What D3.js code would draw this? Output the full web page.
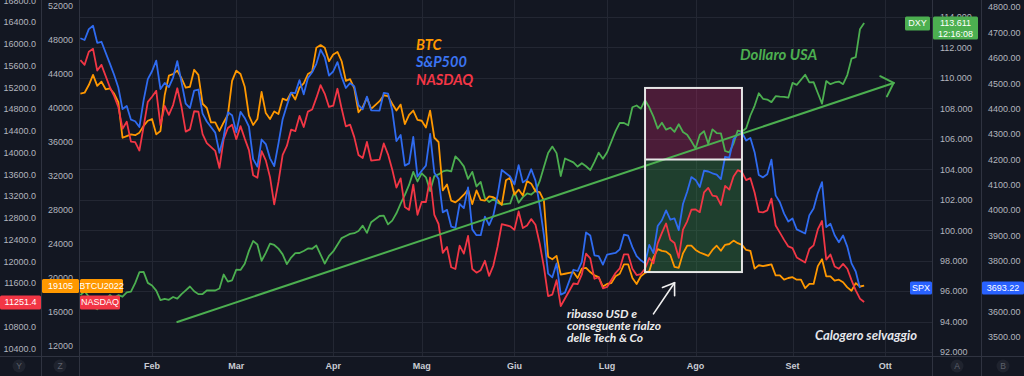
<!DOCTYPE html>
<html>
<head>
<meta charset="utf-8">
<script src="https://cdn.jsdelivr.net/npm/d3@7"></script>
<style>
html, body { margin: 0; padding: 0; background: #131722; }
svg { display: block; }
</style>
</head>
<body>
<script>
(function(){

//----- data: one value per weekday, starting Fri 7 Jan 2022 (null = market closed)
var startDay = "2022-01-07";
var monthNames = ["Gen","Feb","Mar","Apr","Mag","Giu","Lug","Ago","Set","Ott","Nov","Dic"];

var spx = [4677,
  4670,4713,4726,4659,4663, null,4577,4533,4483,4398, 4410,4356,4350,4327,4432, 4516,4547,4589,4477,4501,
  4484,4522,4587,4504,4419, 4402,4471,4475,4380,4349, null,4305,4226,4289,4385, 4374,4306,4387,4363,4329,
  4201,4171,4278,4260,4204, 4173,4262,4358,4412,4463, 4461,4512,4456,4520,4543, 4576,4632,4602,4530,4546,
  4583,4525,4481,4500,4488, 4413,4397,4447,4393,null, 4392,4462,4459,4394,4272, 4296,4175,4184,4288,4132,
  4155,4175,4300,4147,4123, 3991,4001,3935,3930,4024, 4008,4089,3924,3901,3901, 3974,3941,3979,4058,4158,
  null,4132,4101,4177,4109, 4121,4161,4116,4018,3901, 3750,3735,3790,3667,3675, null,3765,3760,3796,3912,
  3900,3822,3819,3785,3825, null,3831,3845,3903,3899, 3854,3819,3802,3790,3863, 3831,3937,3960,3999,3962,
  3967,3921,4024,4072,4130, 4119,4091,4155,4152,4145, 4140,4122,4210,4207,4280, 4297,4305,4274,4284,4228,
  4138,4129,4141,4199,4058, 4031,3986,3955,3967,3924, null,3908,3980,4006,4067, 4110,3933,3946,3901,3873,
  3900,3856,3790,3758,3693,
  null];

var nasdaq = [15700,
  15612,15853,15906,15507,15612, null,15200,15040,14840,14438, 14565,14200,14192,14036,14477, 14930,15026,15134,14503,14856,
  14692,14873,15181,14836,14384, 14425,14759,14753,14339,14171, null,14029,13716,14243,14451, 14511,14245,14485,14256,14044,
  13582,13534,14026,13855,13547, 13047,13458,13956,14120,14420, 14392,14673,14468,14752,14790, 15004,15239,15080,14838,14861,
  15172,14808,14480,14512,14283, 13954,13898,14194,13852,null, 13869,14166,13966,13689,13355, 13525,12997,12944,13408,12855,
  13093,13090,13540,12851,12685, 12154,12261,11890,11858,12288, 12141,12465,11857,11790,11836, 12009,11730,11921,12267,12682,
  null,12643,12577,12915,12610, 12657,12775,12672,12326,11895, 11360,11388,11652,11176,11315, null,11591,11580,11757,12141,
  12052,11678,11706,11503,11528, null,11784,11868,12127,12125, 11862,11746,11765,11862,12060, 11964,12329,12521,12695,12396,
  12335,12064,12583,12735,12947, 12953,12903,13266,13349,13207, 13191,13035,13385,13317,13559, 13675,13639,13492,13528,13264,
  12907,12899,12936,13151,12657, 12527,12393,12272,12242,12070, null,11977,12225,12292,12585, 12740,12030,12123,11905,11862,
  11951,11862,11652,11466,11311,
  11251];

var btc = [41700,
  41800,42700,43900,42600,43100, 42200,42300,41700,40700,36500, 36700,36900,36800,37100,37900, 38500,38700,36900,37300,41500,
  43800,44000,44400,43500,42400, 42500,44500,43900,40500,40000, 38300,38300,37300,38300,39200, 43200,44400,44000,42500,39100,
  38000,38700,41900,39400,38700, 39600,39300,41100,40900,41800, 41000,42400,42900,44000,44300, 47100,47400,47100,45500,46300,
  46600,45500,43200,43400,42300, 39500,40100,41200,39900,null, 40800,41500,41400,40500,39700, 40400,38100,39200,39700,38600,
  38500,37700,39700,36500,36000, 30300,31000,29100,28900,29300, 29800,30400,28700,30300,29200, 29100,29600,29500,29200,28600,
  31500,31800,29800,30400,29700, 31400,31100,30200,30100,29100, 22500,22200,22600,20400,20500, 20600,20700,20000,21100,21200,
  20700,20300,20100,19000,19300, 19400,20200,20500,21600,21600, 20000,19300,20200,20600,20800, 22400,23400,23200,23100,22700,
  21300,21200,22900,23800,23800, 23300,23000,22800,22600,23300, 23800,23200,23900,24000,24400, 24100,23900,23300,23200,21100,
  21500,21400,21500,21600,20300, 20300,19800,20000,20100,19800, 19800,18800,19300,19300,21400, 22200,20200,20200,19700,19800,
  19500,18900,18500,19400,19000,
  19105];

var dxy = [95.73,
  95.99,95.63,94.99,94.81,95.17, null,95.74,95.53,95.73,95.63, 95.91,95.96,96.52,97.24,97.26, 96.54,96.37,96.03,95.41,95.49,
  95.43,95.61,95.50,95.80,96.05, 96.30,95.99,95.80,95.81,96.04, null,96.04,96.17,97.09,96.62, 96.71,97.41,97.39,97.79,98.64,
  99.29,99.06,97.99,98.51,99.12, 99.03,98.79,98.41,97.77,98.20, 98.49,98.50,98.63,98.80,98.78, 98.99,98.40,97.81,98.31,98.60,
  99.04,99.48,99.62,99.76,99.80, 99.95,100.30,99.82,100.52,null, 100.93,100.95,100.38,100.63,101.11, 101.75,102.32,102.97,103.83,103.20,
  103.73,103.47,102.57,103.55,103.66, 103.86,103.92,103.86,104.85,104.56, 104.19,103.37,103.83,102.87,103.17, 102.10,101.85,102.05,101.81,101.68,
  null,101.76,102.54,101.80,102.17, 102.41,102.34,102.58,103.22,104.15, 105.07,105.49,105.06,103.56,104.71, null,104.45,104.18,104.40,104.20,
  103.94,104.49,105.09,104.69,105.12, null,106.51,107.05,107.04,106.89, 108.07,108.19,107.98,108.54,108.07, 107.46,106.68,107.05,106.60,106.73,
  106.46,106.96,106.45,106.27,105.84, 105.36,106.27,106.50,105.67,106.62, 106.38,106.36,105.20,105.11,105.69, 106.54,106.47,106.69,107.53,108.17,
  108.99,108.63,108.58,108.41,108.80, 108.77,108.76,108.70,109.67,109.54, null,110.21,109.71,109.72,109.01, 108.31,109.79,109.59,109.70,109.76,
  109.59,110.19,111.26,111.36,113.19,
  113.61];

//axis tick values (ticks hidden under the last-price tags are left out)
var nasdaqTicks = [10400,10800,11600,12000,12400,12800,13200,13600,14000,14400,14800,15200,15600,16000,16400,16800];
var btcTicks = [12000,16000,20000,24000,28000,32000,36000,40000,44000,48000,52000];
var dxyTicks = [92,94,96,98,100,102,104,106,108,110,112,114];
var spxTicks = [3500,3600,3800,3900,4000,4100,4200,4300,4400,4500,4600,4700,4800];

//last price tags
var lastNasdaq = 11251.4, lastBtc = 19105, lastDxy = 113.611, lastSpx = 3693.22, lastTime = "12:16:08";

//drawings (dates + dollar index values)
var trend = {from: "2022-02-09", v0: 93.97, to: "2022-10-05", v1: 109.67};
var posBox = {from: "2022-07-14", to: "2022-08-16", top: 109.34, mid: 104.64, bottom: 97.25};
var hint = {from: "2022-07-18", v0: 94.5, to: "2022-07-25", v1: 96.55};

//----- frame
var width = 1024, height = 376;
var plotL = 79, plotR = 932, plotB = 356;

var svg = d3.select("body").append("svg")
    .attr("width", width)
    .attr("height", height);

svg.append("rect").attr("width", width).attr("height", height).attr("fill", "#131722");

//weekday calendar (also covers the empty space on the right)
var weekdays = [];
var day = d3.timeParse("%Y-%m-%d")(startDay);
while (weekdays.length < 206){
    if (day.getDay() % 6 !== 0) weekdays.push(new Date(day));
    day.setDate(day.getDate() + 1);
}
var fmtDay = d3.timeFormat("%Y-%m-%d");
function idx(s){
    return weekdays.findIndex(function(d){ return fmtDay(d) === s; });
}

//scales
var x = d3.scaleLinear().domain([-0.33, 202.1]).range([plotL, plotR]);
var yNasdaq = d3.scaleLinear().domain([10257.5, 16804.6]).range([plotB, 0]);
var yBtc = d3.scaleLinear().domain([10823.5, 52705.9]).range([plotB, 0]);
var yDxy = d3.scaleLinear().domain([91.737, 115.116]).range([plotB, 0]);
var ySpx = d3.scaleLinear().domain([3425.2, 4827.6]).range([plotB, 0]);

//month ticks = first weekday of every month
var monthTicks = [];
for (var i = 1; i < weekdays.length; i++){
    if (weekdays[i].getMonth() !== weekdays[i-1].getMonth() && x(i) < plotR - 10){
        monthTicks.push({i: i, label: monthNames[weekdays[i].getMonth()]});
    }
}

//grid
var grid = svg.append("g");
grid.selectAll(".hgrid")
    .data(dxyTicks)
    .enter()
    .append("line")
    .attr("x1", plotL).attr("x2", plotR)
    .attr("y1", function(d){ return Math.round(yDxy(d)) + 0.5; })
    .attr("y2", function(d){ return Math.round(yDxy(d)) + 0.5; })
    .attr("stroke", "#232733");
grid.selectAll(".vgrid")
    .data(monthTicks)
    .enter()
    .append("line")
    .attr("x1", function(d){ return Math.round(x(d.i)) + 0.5; })
    .attr("x2", function(d){ return Math.round(x(d.i)) + 0.5; })
    .attr("y1", 0).attr("y2", plotB)
    .attr("stroke", "#232733");

//axis separators
[41, plotL, plotR, 981].forEach(function(px){
    svg.append("line").attr("x1", px + 0.5).attr("x2", px + 0.5).attr("y1", 0).attr("y2", height)
        .attr("stroke", "#2f3340");
});
svg.append("line").attr("x1", 0).attr("x2", width).attr("y1", plotB + 0.5).attr("y2", plotB + 0.5)
    .attr("stroke", "#2f3340");

svg.append("clipPath").attr("id", "plotclip")
    .append("rect").attr("x", plotL + 1).attr("y", 0).attr("width", plotR - plotL - 1).attr("height", plotB);
var plot = svg.append("g").attr("clip-path", "url(#plotclip)");

//trend line with open arrow head
var tx0 = x(idx(trend.from)), ty0 = yDxy(trend.v0), tx1 = x(idx(trend.to)), ty1 = yDxy(trend.v1);
function arrowHead(g, x0, y0, x1, y1, len, spread, color, w){
    var back = Math.atan2(y0 - y1, x0 - x1);
    [spread, -spread].forEach(function(s){
        g.append("line")
            .attr("x1", x1).attr("y1", y1)
            .attr("x2", x1 + len * Math.cos(back + s))
            .attr("y2", y1 + len * Math.sin(back + s))
            .attr("stroke", color).attr("stroke-width", w).attr("stroke-linecap", "round");
    });
}
svg.append("line")
    .attr("x1", tx0).attr("y1", ty0).attr("x2", tx1).attr("y2", ty1)
    .attr("stroke", "#4caf50").attr("stroke-width", 2).attr("stroke-linecap", "round");
arrowHead(svg, tx0, ty0, tx1, ty1, 15, Math.PI / 4, "#4caf50", 2);

//position box fills
var bx0 = x(idx(posBox.from)), bx1 = x(idx(posBox.to));
plot.append("rect")
    .attr("x", bx0).attr("width", bx1 - bx0)
    .attr("y", yDxy(posBox.top)).attr("height", yDxy(posBox.mid) - yDxy(posBox.top))
    .attr("fill", "rgba(205,40,110,0.3)");
plot.append("rect")
    .attr("x", bx0).attr("width", bx1 - bx0)
    .attr("y", yDxy(posBox.mid)).attr("height", yDxy(posBox.bottom) - yDxy(posBox.mid))
    .attr("fill", "rgba(60,155,75,0.3)");

//series
var series = [
    {values: dxy, y: yDxy, color: "#4caf50"},
    {values: btc, y: yBtc, color: "#ff9800"},
    {values: nasdaq, y: yNasdaq, color: "#f23645"},
    {values: spx, y: ySpx, color: "#2f6bf0"}
];
series.forEach(function(s){
    var pts = [];
    s.values.forEach(function(v, i){ if (v !== null) pts.push([i, v]); });
    var line = d3.line()
        .x(function(d){ return x(d[0]); })
        .y(function(d){ return s.y(d[1]); });
    plot.append("path")
        .datum(pts)
        .attr("d", line)
        .attr("fill", "none")
        .attr("stroke", s.color)
        .attr("stroke-width", 1.8)
        .attr("stroke-linejoin", "round");
});

//position box borders
var border = svg.append("g").attr("stroke", "#e6e6e6").attr("stroke-width", 2).attr("fill", "none");
border.append("rect")
    .attr("x", bx0).attr("width", bx1 - bx0)
    .attr("y", yDxy(posBox.top)).attr("height", yDxy(posBox.bottom) - yDxy(posBox.top));
border.append("line")
    .attr("x1", bx0).attr("x2", bx1)
    .attr("y1", yDxy(posBox.mid)).attr("y2", yDxy(posBox.mid));

//white hint arrow
var hx0 = x(idx(hint.from)), hy0 = yDxy(hint.v0), hx1 = x(idx(hint.to)), hy1 = yDxy(hint.v1);
svg.append("line")
    .attr("x1", hx0).attr("y1", hy0).attr("x2", hx1).attr("y2", hy1)
    .attr("stroke", "#f0f0f0").attr("stroke-width", 1.6).attr("stroke-linecap", "round");
arrowHead(svg, hx0, hy0, hx1, hy1, 13, 0.6, "#f0f0f0", 1.6);

//text notes
var noteFont = "'Lato', 'DejaVu Sans', sans-serif";
function note(txt, px, py, color, size){
    svg.append("text")
        .attr("x", px).attr("y", py)
        .attr("fill", color)
        .style("font-family", noteFont)
        .style("font-weight", 700)
        .style("font-style", "italic")
        .style("font-size", size + "px")
        .text(txt);
}
note("BTC", 416, 49.5, "#ff9800", 14.5);
note("S&P500", 416, 67, "#3b74f2", 14.5);
note("NASDAQ", 416, 85, "#f23645", 14.5);
note("Dollaro USA", 740, 60, "#4caf50", 15);
note("ribasso USD e", 567, 317.5, "#ececec", 12);
note("conseguente rialzo", 567, 329.5, "#ececec", 12);
note("delle Tech & Co", 567, 341.5, "#ececec", 12);
note("Calogero selvaggio", 815, 339.5, "#e4e6ec", 13);

//price axes
var axisFont = "'Liberation Sans', Arial, sans-serif";
function priceAxis(gen, scale, ticks, fmt, px){
    var g = svg.append("g")
        .attr("transform", "translate(" + px + ",0)")
        .call(gen(scale).tickValues(ticks).tickFormat(fmt).tickSize(0).tickPadding(0));
    g.select(".domain").remove();
    g.attr("font-family", axisFont).attr("font-size", 9).attr("color", "#b2b5be");
}
priceAxis(d3.axisLeft, yNasdaq, nasdaqTicks, d3.format(".1f"), 36);
priceAxis(d3.axisLeft, yBtc, btcTicks, d3.format("d"), 73);
priceAxis(d3.axisRight, yDxy, dxyTicks, d3.format(".3f"), 940);
priceAxis(d3.axisRight, ySpx, spxTicks, d3.format(".2f"), 988);

//price tags
function tag(x0, w, cy, h, fill, lines){
    var g = svg.append("g");
    g.append("rect")
        .attr("x", x0).attr("y", cy - 6.5).attr("width", w).attr("height", h)
        .attr("rx", 1.5)
        .attr("fill", fill);
    lines.forEach(function(t, k){
        g.append("text")
            .attr("x", x0 + w / 2).attr("y", cy + 3.2 + k * 10.5)
            .attr("text-anchor", "middle")
            .attr("fill", "#ffffff")
            .style("font-family", axisFont)
            .style("font-size", "9px")
            .text(t);
    });
}
tag(0, 41, yNasdaq(lastNasdaq), 14, "#f23645", [d3.format(".1f")(lastNasdaq)]);
tag(80, 40, yNasdaq(lastNasdaq), 14, "#f23645", ["NASDAQ"]);
tag(42, 37, yBtc(lastBtc), 14, "#ff9800", [String(lastBtc)]);
tag(80, 43, yBtc(lastBtc), 14, "#ff9800", ["BTCU2022"]);
tag(905, 25, yDxy(lastDxy), 14, "#4caf50", ["DXY"]);
tag(933, 45, yDxy(lastDxy), 23, "#4caf50", [d3.format(".3f")(lastDxy), lastTime]);
tag(910, 22, ySpx(lastSpx), 13, "#2962ff", ["SPX"]);
tag(982, 42, ySpx(lastSpx), 13, "#2962ff", [d3.format(".2f")(lastSpx)]);

//time axis
svg.selectAll(".month")
    .data(monthTicks)
    .enter()
    .append("text")
    .attr("x", function(d){ return x(d.i); })
    .attr("y", 369)
    .attr("text-anchor", "middle")
    .attr("fill", "#c9ccd4")
    .style("font-family", axisFont)
    .style("font-weight", 700)
    .style("font-size", "9px")
    .text(function(d){ return d.label; });

//scale letters in the corners
[{t: "Y", cx: 19}, {t: "Z", cx: 60}, {t: "A", cx: 957}, {t: "B", cx: 1003}].forEach(function(d){
    svg.append("circle").attr("cx", d.cx).attr("cy", 366).attr("r", 6.5).attr("fill", "#1f232e");
    svg.append("text")
        .attr("x", d.cx).attr("y", 369)
        .attr("text-anchor", "middle")
        .attr("fill", "#5d606b")
        .style("font-family", axisFont)
        .style("font-size", "8.5px")
        .text(d.t);
});

})();
</script>
</body>
</html>
